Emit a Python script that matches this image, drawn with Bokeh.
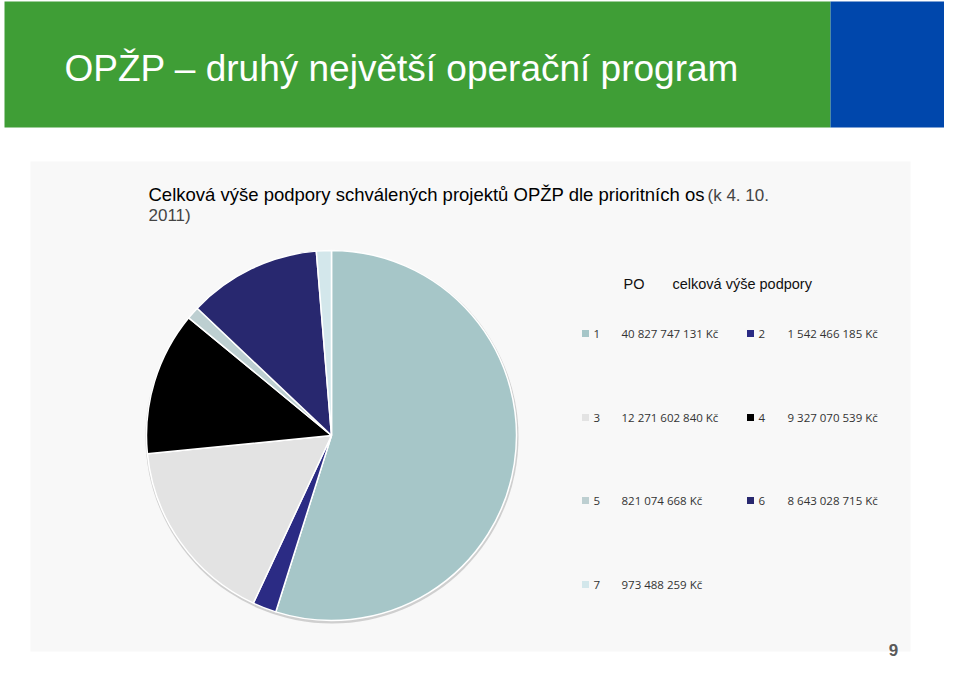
import numpy as np
from bokeh.plotting import figure
from bokeh.models import Range1d, ColumnDataSource
from bokeh.core.properties import value
from bokeh.embed import file_html
from bokeh.resources import INLINE

# ---- data ----
po = ["1", "2", "3", "4", "5", "6", "7"]
support_czk = [40827747131, 1542466185, 12271602840, 9327070539,
               821074668, 8643028715, 973488259]
colors = ["#A6C6C8", "#2B2B84", "#E3E3E3", "#000000",
          "#BDCFD1", "#28286F", "#D3E7EB"]
slide_title = "OPŽP – druhý největší operační program"
chart_title = "Celková výše podpory schválených projektů OPŽP dle prioritních os"
chart_title_tail = "(k 4. 10."
chart_title_line2 = "2011)"
legend_head_po = "PO"
legend_head_val = "celková výše podpory"
page_number = "9"

W, H = 944, 660
p = figure(width=W, height=H, x_range=Range1d(0, W), y_range=Range1d(0, H),
           output_backend="svg", toolbar_location=None, min_border=0,
           x_axis_type=None, y_axis_type=None)
p.outline_line_color = None
p.grid.visible = False
p.background_fill_color = "white"
p.border_fill_color = "white"

# header bars
p.quad(left=[4], right=[830], bottom=[533], top=[659], fill_color="#3F9E36", line_color=None)
p.quad(left=[830], right=[W], bottom=[533], top=[659], fill_color="#0047AC", line_color=None)
p.text(x=[64], y=[592], text=[slide_title], text_font=value("Liberation Sans"),
       text_font_size="37px", text_color="white", text_baseline="middle", text_align="left")

# chart area background
p.quad(left=[30], right=[910], bottom=[9], top=[499], fill_color="#F8F8F8", line_color=None)

# chart title
p.text(x=[148], y=[466], text=[chart_title], text_font=value("Liberation Sans"),
       text_font_size="18.5px", text_color="#000000", text_baseline="middle", text_align="left")
p.text(x=[707], y=[465], text=[chart_title_tail], text_font=value("Liberation Sans"),
       text_font_size="17px", text_color="#444444", text_baseline="middle", text_align="left")
p.text(x=[148], y=[445], text=[chart_title_line2], text_font=value("Liberation Sans"),
       text_font_size="17px", text_color="#444444", text_baseline="middle", text_align="left")

# pie
vals = np.array(support_czk, dtype=float)
frac = vals / vals.sum()
cum_after = np.cumsum(frac)
cum_before = cum_after - frac
start = np.pi / 2 - 2 * np.pi * cum_after
end = np.pi / 2 - 2 * np.pi * cum_before
cx, cy, r = 331, 225, 185

p.circle(x=[cx + 0.5], y=[cy - 1.5], radius=r + 1.5, fill_color="#BEBEBE",
         fill_alpha=0.7, line_color=None)
src = ColumnDataSource(dict(start=start, end=end, color=colors, po=po))
p.wedge(x=cx, y=cy, radius=r, start_angle="start", end_angle="end",
        fill_color="color", line_color="white", line_width=1.5, source=src)

# legend
p.text(x=[623], y=[377], text=[legend_head_po], text_font=value("Liberation Sans"),
       text_font_size="14.5px", text_color="#111111", text_baseline="middle", text_align="left")
p.text(x=[672], y=[377], text=[legend_head_val], text_font=value("Liberation Sans"),
       text_font_size="14.5px", text_color="#111111", text_baseline="middle", text_align="left")

def fmt(v):
    return "{:,}".format(v).replace(",", " ") + " Kč"

row_y = [327, 243, 160, 76]
col_sq = [585, 750]
col_num = [593, 758]
col_val = [621, 787]
sx, sy, nx, vx = [], [], [], []
for i in range(len(po)):
    rr, cc = i // 2, i % 2
    sx.append(col_sq[cc]); sy.append(row_y[rr])
    nx.append(col_num[cc]); vx.append(col_val[cc])
p.scatter(x=sx, y=sy, size=7, marker="square", fill_color=colors, line_color=None)
p.text(x=nx, y=sy, text=po, text_font=value("Open Sans"), text_font_size="11.5px",
       text_color="#333333", text_baseline="middle", text_align="left")
p.text(x=vx, y=sy, text=[fmt(v) for v in support_czk], text_font=value("Open Sans"),
       text_font_size="11.5px", text_color="#333333", text_baseline="middle", text_align="left")

# page number
p.text(x=[893], y=[5], text=[page_number], text_font=value("Liberation Sans"),
       text_font_size="17px", text_font_style="bold", text_color="#5A5A5A",
       text_baseline="bottom", text_align="center")

open("out.html", "w").write(file_html(p, INLINE))
